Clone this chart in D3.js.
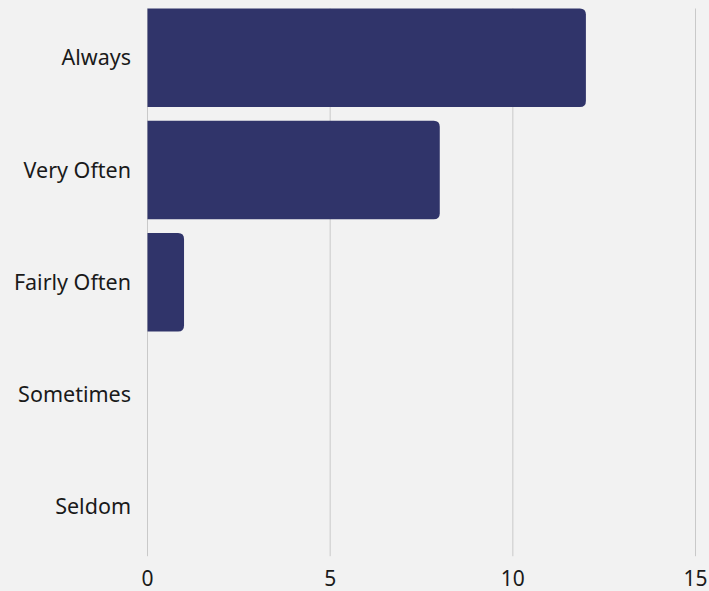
<!DOCTYPE html>
<html>
<head>
<meta charset="utf-8">
<script src="https://cdn.jsdelivr.net/npm/d3@7"></script>
<style>
  body { margin: 0; background: #f2f2f2; }
  text { font-family: "Noto Sans", "Open Sans", sans-serif; fill: #1a1a1a; }
</style>
</head>
<body>
<div id="chart"></div>
<script>
// data
var categories = ["Always", "Very Often", "Fairly Often", "Sometimes", "Seldom"];
var counts = [12, 8, 1, 0, 0];
var xTicks = [0, 5, 10, 15];

var width = 709, height = 591;

var svg = d3.select("#chart")
  .append("svg")
    .attr("width", width)
    .attr("height", height)
    .style("background", "#f2f2f2");

// scales
var x = d3.scaleLinear()
  .domain([0, 15])
  .range([147.5, 695.5]);

var y = d3.scaleBand()
  .domain(categories)
  .range([1.6, 563.1])
  .paddingInner(0.123)
  .paddingOuter(0.0615);

var gridTop = y(categories[0]);
var gridBottom = y(categories[categories.length - 1]) + y.bandwidth();

// gridlines
svg.append("g")
  .selectAll("line")
  .data(xTicks)
  .enter()
  .append("line")
    .attr("x1", d => x(d))
    .attr("x2", d => x(d))
    .attr("y1", gridTop)
    .attr("y2", gridBottom)
    .attr("stroke", "#c9c9c9")
    .attr("stroke-width", 1);

// bar with rounded right corners
function barPath(x0, y0, w, h, r) {
  if (w <= 0) return "";
  r = Math.min(r, w, h / 2);
  return "M" + x0 + "," + y0 +
    "H" + (x0 + w - r) +
    "Q" + (x0 + w) + "," + y0 + " " + (x0 + w) + "," + (y0 + r) +
    "V" + (y0 + h - r) +
    "Q" + (x0 + w) + "," + (y0 + h) + " " + (x0 + w - r) + "," + (y0 + h) +
    "H" + x0 + "Z";
}

svg.append("g")
  .selectAll("path")
  .data(categories.map((c, i) => ({cat: c, value: counts[i]})))
  .enter()
  .append("path")
    .attr("d", d => barPath(x(0), y(d.cat), x(d.value) - x(0), y.bandwidth(), 6))
    .attr("fill", "#30346a");

// category labels
svg.append("g")
  .selectAll("text")
  .data(categories)
  .enter()
  .append("text")
    .attr("x", 131)
    .attr("y", d => y(d) + y.bandwidth() / 2)
    .attr("dy", "0.35em")
    .attr("text-anchor", "end")
    .attr("font-size", 21.5)
    .text(d => d);

// x tick labels
svg.append("g")
  .selectAll("text")
  .data(xTicks)
  .enter()
  .append("text")
    .attr("x", d => x(d))
    .attr("y", 586)
    .attr("text-anchor", "middle")
    .attr("font-size", 21)
    .text(d => d);
</script>
</body>
</html>
